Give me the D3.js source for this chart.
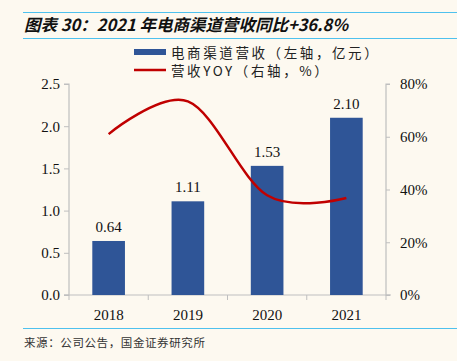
<!DOCTYPE html>
<html><head><meta charset="utf-8">
<script src="https://cdn.jsdelivr.net/npm/d3@7/dist/d3.min.js"></script>
<style>
html,body{margin:0;padding:0;background:#FDF9F0;}
svg{display:block;}
</style></head>
<body>
<script>
const categories = ["2018","2019","2020","2021"];
const revenue = [0.64, 1.11, 1.53, 2.10];
const yoy = [61, 73.4, 37.8, 36.8];
const leftTicks = [0, 0.5, 1.0, 1.5, 2.0, 2.5];
const rightTicks = [0, 20, 40, 60, 80];
const title = "图表 30：2021 年电商渠道营收同比+36.8%";
const legendLabels = ["电商渠道营收（左轴，亿元）", "营收YOY（右轴，%）"];
const source = "来源：公司公告，国金证券研究所";

const W = 457, H = 361;
const svg = d3.select("body").append("svg").attr("width", W).attr("height", H);
svg.append("rect").attr("width", W).attr("height", H).attr("fill", "#FDF9F0");

const x0 = 69, x1 = 386, yTop = 84, yBot = 295;
const x = d3.scaleBand().domain(categories).range([x0, x1]).paddingInner(0.588).paddingOuter(0.294);
const yL = d3.scaleLinear().domain([0, 2.5]).range([yBot, yTop]);
const yR = d3.scaleLinear().domain([0, 80]).range([yBot, yTop]);

const serif = "'Liberation Serif','Times New Roman',serif";
const axisCol = "#BFBFBF";

// title lines
svg.append("line").attr("x1", 23).attr("x2", W).attr("y1", 12.5).attr("y2", 12.5).attr("stroke", "#4EC1EE").attr("stroke-width", 1);
svg.append("line").attr("x1", 23).attr("x2", W).attr("y1", 38.5).attr("y2", 38.5).attr("stroke", "#4EC1EE").attr("stroke-width", 1);
svg.append("text").attr("x", 24).attr("y", 31).text(title)
  .attr("font-family", "'Noto Sans CJK SC',sans-serif").attr("font-size", 16.5).attr("font-weight", "bold")
  .attr("font-style", "italic").attr("fill", "#111");

// legend
const lg = svg.append("g").attr("font-family", "'Noto Sans CJK SC',serif").attr("font-size", 13.5).attr("fill", "#222");
lg.append("rect").attr("x", 134).attr("y", 49).attr("width", 32).attr("height", 6).attr("fill", "#2F5597");
lg.append("text").attr("x", 171).attr("y", 57.5).text(legendLabels[0]).attr("letter-spacing", 2.6);
lg.append("line").attr("x1", 134).attr("x2", 166).attr("y1", 70).attr("y2", 70).attr("stroke", "#C00000").attr("stroke-width", 2.5);
lg.append("text").attr("x", 171).attr("y", 76).text(legendLabels[1]).attr("letter-spacing", 2.6);

// axes
const gL = svg.append("g").attr("transform", `translate(${x0},0)`)
  .call(d3.axisLeft(yL).tickValues(leftTicks).tickFormat(d3.format(".1f")).tickSize(5).tickPadding(4));
const gR = svg.append("g").attr("transform", `translate(${x1},0)`)
  .call(d3.axisRight(yR).tickValues(rightTicks).tickFormat(d => d + "%").tickSize(4).tickPadding(10));
const gX = svg.append("g").attr("transform", `translate(0,${yBot})`)
  .call(d3.axisBottom(x).tickSize(0).tickPadding(14));
const bounds = d3.range(categories.length + 1).map(i => x0 + i * x.step());
gX.selectAll(".bt").data(bounds).enter().append("line").attr("class", "bt")
  .attr("x1", d => d).attr("x2", d => d).attr("y1", 0).attr("y2", 5).attr("stroke", axisCol);

[gL, gR, gX].forEach(g => {
  g.selectAll(".domain").attr("stroke", axisCol).attr("stroke-width", 1.2);
  g.selectAll(".tick line").attr("stroke", axisCol);
  g.selectAll("text").attr("font-family", serif).attr("font-size", 15).attr("fill", "#111");
});
gL.select(".domain").attr("d", `M-5,${yTop}H0V${yBot}H-5`);
gR.select(".domain").attr("d", `M4,${yTop}H0V${yBot}H4`);
gX.select(".domain").attr("d", `M${x0 - 5},0H${x1 + 5}`);

// bars
svg.selectAll(".bar").data(revenue).enter().append("rect").attr("class", "bar")
  .attr("x", (d, i) => x(categories[i])).attr("width", x.bandwidth())
  .attr("y", d => yL(d)).attr("height", d => yBot - yL(d)).attr("fill", "#2F5597");

svg.selectAll(".vl").data(revenue).enter().append("text").attr("class", "vl")
  .attr("x", (d, i) => x(categories[i]) + x.bandwidth() / 2).attr("y", d => yL(d) - 9)
  .attr("text-anchor", "middle").text(d => d.toFixed(2))
  .attr("font-family", serif).attr("font-size", 15).attr("fill", "#111");

// line
const line = d3.line().x((d, i) => x(categories[i]) + x.bandwidth() / 2).y(d => yR(d)).curve(d3.curveCardinal.tension(0));
svg.append("path").datum(yoy).attr("d", line).attr("fill", "none").attr("stroke", "#C00000").attr("stroke-width", 2.5);

// source
svg.append("line").attr("x1", 23).attr("x2", W).attr("y1", 328.5).attr("y2", 328.5).attr("stroke", "#4EC1EE").attr("stroke-width", 1);
svg.append("text").attr("x", 24).attr("y", 347).text(source)
  .attr("font-family", "'Noto Sans CJK SC',sans-serif").attr("font-size", 11.5).attr("fill", "#333").attr("letter-spacing", 0.6);
</script>
</body></html>
